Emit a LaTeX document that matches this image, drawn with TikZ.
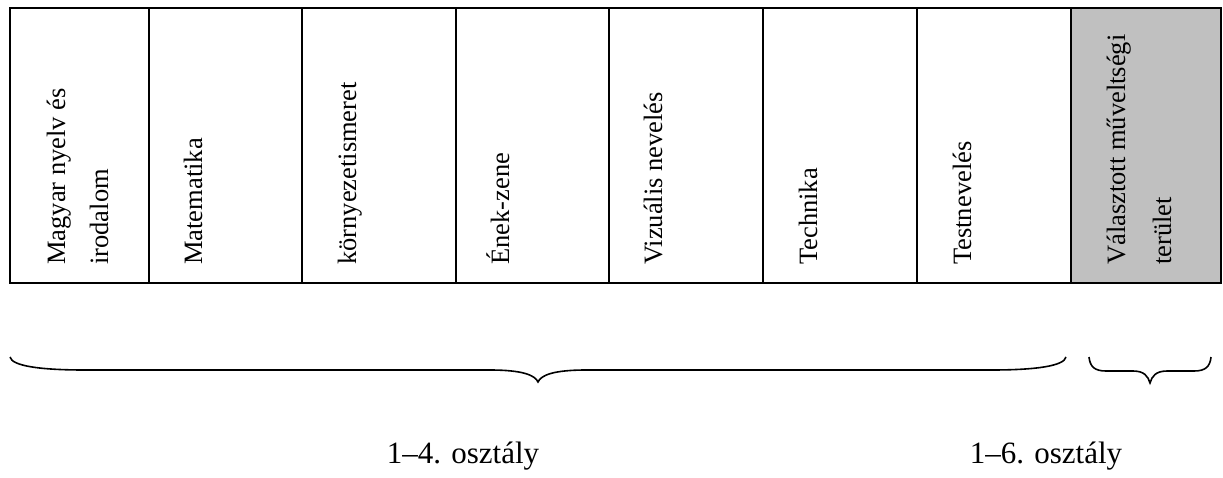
\documentclass[tikz,border=0pt]{standalone}
\usepackage{fontspec}
\setmainfont{Liberation Serif}
\definecolor{cellgray}{HTML}{C0C0C0}
\begin{document}
\begin{tikzpicture}[x=1pt,y=-1pt,
  cell/.style={rotate=90,anchor=base west,inner sep=0pt,font=\fontsize{26.5}{30}\selectfont},
  lab/.style={anchor=base,inner sep=0pt,font=\fontsize{31}{34}\selectfont},
  grid/.style={line width=2pt},
  brace/.style={line width=1.6pt}]
\useasboundingbox (0,0) rectangle (1223,477);
\fill[cellgray] (1071,8) rectangle (1221,283);
\draw[grid] (10,8) rectangle (1221,283);
\foreach \x in {149,302,456,609,763,917,1071} \draw[grid] (\x,8) -- (\x,283);
\node[cell] (c1a) at (65,265) {Magyar nyelv és};
\node[cell] (c1b) at (108,265) {irodalom};
\node[cell] (c2) at (202,265) {Matematika};
\node[cell] (c3) at (356,265) {környezetismeret};
\node[cell] (c4) at (509,265) {Ének-zene};
\node[cell] (c5) at (662,265) {Vizuális nevelés};
\node[cell] (c6) at (817,265) {Technika};
\node[cell] (c7) at (971,265) {Testnevelés};
\node[cell] (c8a) at (1125,265) {Választott műveltségi};
\node[cell] (c8b) at (1171,265) {terület};
\draw[brace] (10,357) .. controls (12,366) and (40,370) .. (85,370) -- (490,370) .. controls (522,370) and (535,375) .. (538,382) .. controls (541,375) and (554,370) .. (586,370) -- (991,370) .. controls (1036,370) and (1064,366) .. (1066,357);
\draw[brace] (1089,357) .. controls (1090,367) and (1095,371) .. (1106,371) -- (1133,371) .. controls (1144,371) and (1148,376) .. (1150,383) .. controls (1152,376) and (1156,371) .. (1167,371) -- (1194,371) .. controls (1205,371) and (1210,367) .. (1211,357);
\node[lab] (l1) at (463,463) {1–4. osztály};
\node[lab] (l2) at (1046,463) {1–6. osztály};
\end{tikzpicture}
\end{document}
